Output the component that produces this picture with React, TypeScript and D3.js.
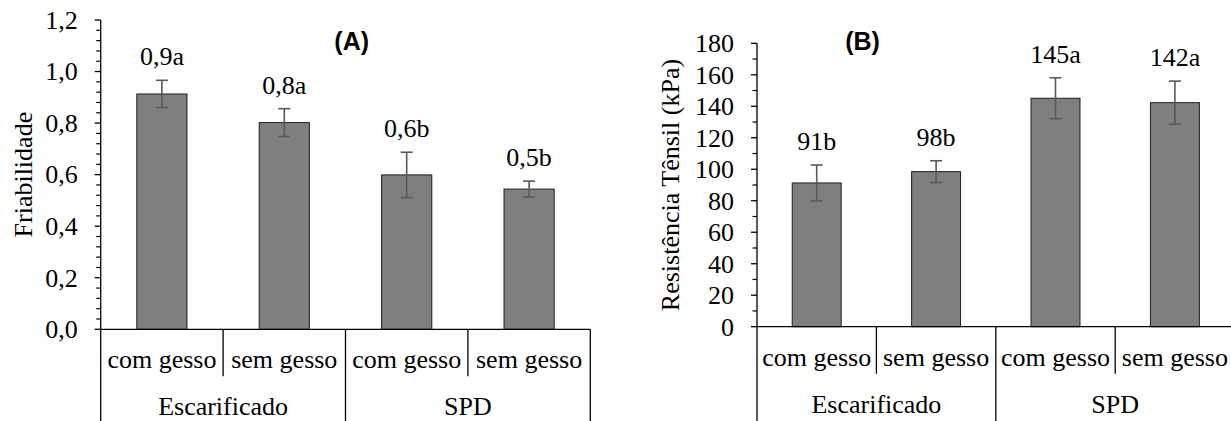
import React from "react";
import * as d3 from "d3";

// ---------- data ----------
const subCategories = ["com gesso", "sem gesso", "com gesso", "sem gesso"];
const groups = ["Escarificado", "SPD"];

const friabMeans = [0.913, 0.802, 0.599, 0.544];
const friabErrors = [0.053, 0.054, 0.088, 0.031];
const friabLabels = ["0,9a", "0,8a", "0,6b", "0,5b"];
const friabTicks = [0, 0.2, 0.4, 0.6, 0.8, 1.0, 1.2];

const rtMeans = [91.3, 98.5, 145.1, 142.3];
const rtErrors = [11.4, 6.9, 13.0, 13.7];
const rtLabels = ["91b", "98b", "145a", "142a"];
const rtTicks = [0, 20, 40, 60, 80, 100, 120, 140, 160, 180];

const SERIF = "Liberation Serif";
const SANS = "Liberation Sans";

type PanelProps = {
  x0: number;
  x1: number;
  yTop: number;
  yBottom: number;
  yMax: number;
  minorStep: number;
  ticks: number[];
  fmt: (v: number) => string;
  means: number[];
  errors: number[];
  labels: string[];
  title: string;
  titleX: number;
  panelTag: string;
  tagX: number;
  tagY: number;
};

function Panel(p: PanelProps) {
  const idx = subCategories.map((_, i) => String(i));
  const x = d3
    .scaleBand<string>()
    .domain(idx)
    .range([p.x0, p.x1])
    .paddingInner(0.59)
    .paddingOuter(0.295);
  const step = (p.x1 - p.x0) / subCategories.length;
  const y = d3.scaleLinear().domain([0, p.yMax]).range([p.yBottom, p.yTop]);
  const minorTicks = d3.range(0, p.yMax + 1e-9, p.minorStep).filter(
    (v) => !p.ticks.some((t) => Math.abs(t - v) < 1e-9)
  );
  const bottom = 430;
  const fs = 26;
  const textStyle = { fontFamily: SERIF, fontSize: fs } as React.CSSProperties;
  return (
    <g>
      {p.means.map((m, i) => (
        <rect
          key={"b" + i}
          x={x(String(i))!}
          y={y(m)}
          width={x.bandwidth()}
          height={y(0) - y(m)}
          fill="#7f7f7f"
          stroke="#1f1f1f"
          strokeWidth={1}
        />
      ))}
      {p.means.map((m, i) => {
        const cx = x(String(i))! + x.bandwidth() / 2;
        const hi = y(m + p.errors[i]);
        const lo = y(m - p.errors[i]);
        return (
          <g key={"e" + i} stroke="#595959" strokeWidth={1.6}>
            <line x1={cx} x2={cx} y1={hi} y2={lo} />
            <line x1={cx - 6} x2={cx + 6} y1={hi} y2={hi} />
            <line x1={cx - 6} x2={cx + 6} y1={lo} y2={lo} />
          </g>
        );
      })}
      {p.means.map((m, i) => {
        const cx = x(String(i))! + x.bandwidth() / 2;
        return (
          <text
            key={"l" + i}
            x={cx}
            y={y(m + p.errors[i]) - 15}
            textAnchor="middle"
            style={textStyle}
            fill="#000"
          >
            {p.labels[i]}
          </text>
        );
      })}
      <line x1={p.x0} x2={p.x0} y1={p.yTop} y2={bottom} stroke="#000" strokeWidth={1.3} />
      {p.ticks.map((t) => (
        <g key={"t" + t}>
          <line x1={p.x0 - 6} x2={p.x0} y1={y(t)} y2={y(t)} stroke="#000" strokeWidth={1.3} />
          <text
            x={p.x0 - 23}
            y={y(t)}
            dy="0.34em"
            textAnchor="end"
            style={textStyle}
            fill="#000"
          >
            {p.fmt(t)}
          </text>
        </g>
      ))}
      {minorTicks.map((t) => (
        <line key={"m" + t} x1={p.x0 - 4.5} x2={p.x0} y1={y(t)} y2={y(t)} stroke="#000" strokeWidth={1.2} />
      ))}
      <line x1={p.x0} x2={p.x1} y1={y(0)} y2={y(0)} stroke="#000" strokeWidth={1.3} />
      {subCategories.map((c, i) => {
        const left = p.x0 + step * i;
        const cx = left + step / 2;
        const isGroupEdge = i % 2 === 0;
        return (
          <g key={"c" + i}>
            {i > 0 && (
              <line
                x1={left}
                x2={left}
                y1={y(0)}
                y2={isGroupEdge ? bottom : y(0) + 47}
                stroke="#000"
                strokeWidth={1.3}
              />
            )}
            <text x={cx} y={y(0) + 39} textAnchor="middle" style={textStyle} fill="#000">
              {c}
            </text>
          </g>
        );
      })}
      <line x1={p.x1} x2={p.x1} y1={y(0)} y2={bottom} stroke="#000" strokeWidth={1.3} />
      {groups.map((g, gi) => (
        <text
          key={"g" + gi}
          x={p.x0 + step * (gi * 2 + 1)}
          y={y(0) + 86}
          textAnchor="middle"
          style={textStyle}
          fill="#000"
        >
          {g}
        </text>
      ))}
      <text
        transform={`translate(${p.titleX},${(p.yTop + p.yBottom) / 2}) rotate(-90)`}
        textAnchor="middle"
        style={textStyle}
        fill="#000"
      >
        {p.title}
      </text>
      <text
        x={p.tagX}
        y={p.tagY}
        textAnchor="middle"
        style={{ fontFamily: SANS, fontWeight: "bold", fontSize: 25 }}
        fill="#000"
      >
        {p.panelTag}
      </text>
    </g>
  );
}

export default function App() {
  const fmtComma = (v: number) => v.toFixed(1).replace(".", ",");
  const fmtInt = (v: number) => String(v);
  return (
    <svg
      width={1231}
      height={421}
      style={{ position: "absolute", left: 0, top: 0, background: "#fff" }}
    >
      <rect x={0} y={0} width={1231} height={421} fill="#fff" />
      <Panel
        x0={100.7}
        x1={590.3}
        yTop={20}
        yBottom={329.3}
        yMax={1.2}
        minorStep={0.04}
        ticks={friabTicks}
        fmt={fmtComma}
        means={friabMeans}
        errors={friabErrors}
        labels={friabLabels}
        title="Friabilidade"
        titleX={31.5}
        panelTag="(A)"
        tagX={351.7}
        tagY={50}
      />
      <Panel
        x0={757}
        x1={1234.6}
        yTop={43.3}
        yBottom={326.7}
        yMax={180}
        minorStep={10}
        ticks={rtTicks}
        fmt={fmtInt}
        means={rtMeans}
        errors={rtErrors}
        labels={rtLabels}
        title="Resistência Tênsil (kPa)"
        titleX={679.3}
        panelTag="(B)"
        tagX={862.5}
        tagY={50}
      />
    </svg>
  );
}
